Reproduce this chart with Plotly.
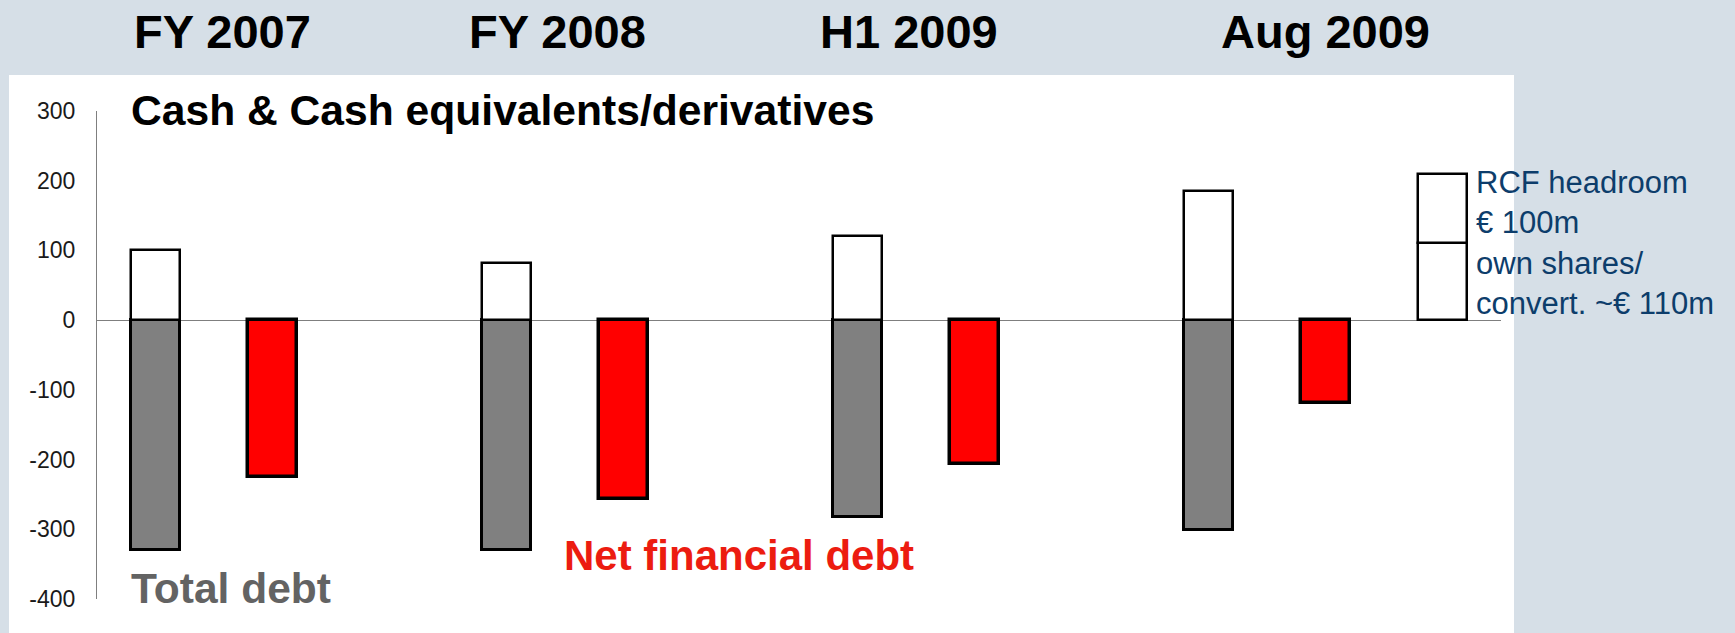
import plotly.graph_objects as go

# Liquidity overview (EUR m)
periods = ["FY 2007", "FY 2008", "H1 2009", "Aug 2009"]
cash = [101, 82, 121, 185]            # cash & cash equivalents/derivatives
total_debt = [-330, -330, -283, -301]
net_debt = [-225, -257, -207, -119]
own_shares = [110]                    # own shares / convertible
rcf_headroom = [100]                  # revolving credit facility headroom
y_ticks = [300, 200, 100, 0, -100, -200, -300, -400]
y_tick_text = ["300", "200", "100", "0", "-100", "-200", "-300", "-400"]

# slot layout: each period uses a debt slot, a net-debt slot and a gap
debt_x = [3 * i for i in range(len(periods))]
net_x = [3 * i + 1 for i in range(len(periods))]
rcf_x = [3 * len(periods) - 1]

W, H = 1735, 633
L, R, T, B = 97, 234, 111, 34
BG = "rgb(214,223,231)"
FONT = "Arial, Liberation Sans, sans-serif"
BAR_W = 0.42

fig = go.Figure()
fig.add_bar(x=debt_x, y=total_debt, width=BAR_W,
            marker=dict(color="#808080", line=dict(color="black", width=3)))
fig.add_bar(x=debt_x, y=cash, width=BAR_W,
            marker=dict(color="white", line=dict(color="black", width=2.5)))
fig.add_bar(x=net_x, y=net_debt, width=BAR_W,
            marker=dict(color="#FF0000", line=dict(color="black", width=3.5)))
fig.add_bar(x=rcf_x, y=own_shares, width=BAR_W,
            marker=dict(color="white", line=dict(color="black", width=2.5)))
fig.add_bar(x=rcf_x, y=rcf_headroom, width=BAR_W,
            marker=dict(color="white", line=dict(color="black", width=2.5)))


def px_x(px):
    return (px - L) / (W - L - R)


def px_y(py):
    return (H - B - py) / (H - T - B)


# white panel behind the chart
fig.add_shape(type="rect", xref="paper", yref="paper",
              x0=px_x(9), x1=px_x(1514), y0=px_y(H + 5), y1=px_y(75),
              fillcolor="white", line=dict(width=0), layer="below")

ann = []
period_px = [222, 557, 909, 1325]
for label, cx in zip(periods, period_px):
    ann.append(dict(text=label, xref="paper", yref="paper", x=px_x(cx), y=px_y(31),
                    xanchor="center", yanchor="middle", showarrow=False,
                    font=dict(family=FONT, size=47, color="black", weight="bold")))
ann.append(dict(text="Cash & Cash equivalents/derivatives", xref="paper", yref="paper",
                x=px_x(129), y=px_y(110), xanchor="left", yanchor="middle", showarrow=False,
                font=dict(family=FONT, size=42.6, color="black", weight="bold")))
ann.append(dict(text="Total debt", xref="paper", yref="paper",
                x=px_x(129), y=px_y(588), xanchor="left", yanchor="middle", showarrow=False,
                font=dict(family=FONT, size=42.5, color="#636363", weight="bold")))
ann.append(dict(text="Net financial debt", xref="paper", yref="paper",
                x=px_x(562), y=px_y(555), xanchor="left", yanchor="middle", showarrow=False,
                font=dict(family=FONT, size=42, color="#EC1C10", weight="bold")))
ann.append(dict(text="RCF headroom<br>€ 100m<br>own shares/<br>convert. ~€ 110m",
                xref="paper", yref="paper", x=px_x(1474), y=px_y(243),
                xanchor="left", yanchor="middle", align="left", showarrow=False,
                font=dict(family=FONT, size=31, color="#0D3D6B")))

fig.update_layout(
    width=W, height=H,
    margin=dict(l=L, r=R, t=T, b=B, pad=0),
    paper_bgcolor=BG, plot_bgcolor="white",
    barmode="relative", bargap=0, showlegend=False,
    annotations=ann,
    xaxis=dict(range=[-0.5, 11.5], showticklabels=False, showgrid=False,
               zeroline=False, showline=False, ticks=""),
    yaxis=dict(range=[-400, 300], tickvals=y_ticks, ticktext=y_tick_text,
               ticks="", showgrid=False,
               showline=True, linecolor="#7f7f7f", linewidth=1,
               zeroline=True, zerolinecolor="#7f7f7f", zerolinewidth=1,
               ticklabelstandoff=16,
               tickfont=dict(family=FONT, size=23, color="#1a1a1a")),
)

fig.write_html("out.html")
